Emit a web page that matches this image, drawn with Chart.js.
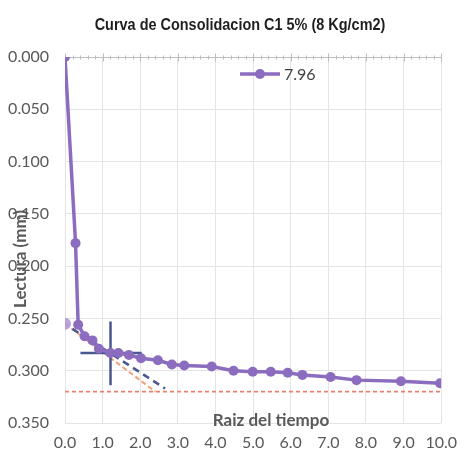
<!DOCTYPE html>
<html>
<head>
<meta charset="utf-8">
<script src="https://cdn.jsdelivr.net/npm/chart.js@4/dist/chart.umd.min.js"></script>
<style>
  html, body { margin: 0; padding: 0; background: #ffffff; }
  canvas { display: block; }
</style>
</head>
<body>
<canvas id="curva" width="467" height="455"></canvas>
<script>
// Lecturas del ensayo: raiz del tiempo vs lectura del deformimetro (mm)
const raizTiempo = [0, 0.28, 0.35, 0.52, 0.73, 0.90, 1.21, 1.42, 1.70, 2.02, 2.47, 2.84, 3.17, 3.90, 4.48, 4.99, 5.47, 5.92, 6.31, 7.06, 7.75, 8.93, 9.97];
const lectura    = [0.000, 0.178, 0.256, 0.267, 0.271, 0.279, 0.283, 0.283, 0.285, 0.288, 0.290, 0.294, 0.295, 0.296, 0.300, 0.301, 0.301, 0.302, 0.304, 0.306, 0.309, 0.310, 0.312];

// Construccion de Taylor (raiz del tiempo)
const tangenteX   = [0, 2.40];
const tangenteY   = [0.255, 0.320];
const corregidaX  = [0.20, 2.66];
const corregidaY  = [0.260, 0.317];
const lecturaFinal = 0.320;
const cruceX = 1.21;
const cruceY = 0.283;
const cruceVertical   = [0.253, 0.314];
const cruceHorizontal = [0.41, 2.04];

// Etiquetas de los ejes
const ticksX = [0, 1, 2, 3, 4, 5, 6, 7, 8, 9, 10];
const ticksY = [0, 0.05, 0.10, 0.15, 0.20, 0.25, 0.30, 0.35];

const titulo = 'Curva de Consolidacion C1 5% (8 Kg/cm2)';
const serieNombre = '7.96';
const ejeX = 'Raiz del tiempo';
const ejeY = 'Lectura (mm)';

const pares = (xs, ys) => xs.map((x, i) => ({ x, y: ys[i] }));

const morado = '#8B6CBE';
const azul = '#47598F';
const gris = '#595959';

const textos = {
  id: 'textos',
  beforeDatasetsDraw(chart) {
    const { ctx, scales: { x, y } } = chart;
    // eje horizontal superior con marcas menores
    ctx.save();
    ctx.strokeStyle = '#BDBDBD';
    ctx.lineWidth = 1;
    const y0 = Math.round(y.getPixelForValue(0)) + 0.5;
    ctx.beginPath();
    ctx.moveTo(x.getPixelForValue(0), y0);
    ctx.lineTo(x.getPixelForValue(10), y0);
    for (let i = 0; i <= 50; i++) {
      const px = Math.round(x.getPixelForValue(i / 5)) + 0.5;
      const l = i % 5 === 0 ? 4 : 2;
      ctx.moveTo(px, y0 - l);
      ctx.lineTo(px, y0 + l);
    }
    ctx.stroke();
    ctx.restore();
  },
  afterDraw(chart) {
    const { ctx } = chart;
    ctx.save();
    // titulo (letra condensada)
    ctx.save();
    ctx.fillStyle = '#1E1E1E';
    ctx.font = "bold 17px 'Liberation Sans', Arial, sans-serif";
    ctx.textAlign = 'center';
    ctx.textBaseline = 'alphabetic';
    ctx.translate(240, 30);
    ctx.scale(0.85, 1);
    ctx.fillText(titulo, 0, 0);
    ctx.restore();

    // titulo eje X
    ctx.fillStyle = gris;
    ctx.textAlign = 'center';
    ctx.font = "bold 17px Lato, sans-serif";
    ctx.fillText(ejeX, 271, 426);

    // titulo eje Y
    ctx.save();
    ctx.translate(21, 259);
    ctx.rotate(-Math.PI / 2);
    ctx.textBaseline = 'middle';
    ctx.fillText(ejeY, 0, 0);
    ctx.restore();

    // leyenda
    const ly = 74;
    ctx.strokeStyle = morado;
    ctx.lineWidth = 3.5;
    ctx.beginPath();
    ctx.moveTo(240, ly);
    ctx.lineTo(280, ly);
    ctx.stroke();
    ctx.fillStyle = morado;
    ctx.beginPath();
    ctx.arc(260, ly, 5, 0, Math.PI * 2);
    ctx.fill();
    ctx.fillStyle = '#404040';
    ctx.font = "16px Lato, sans-serif";
    ctx.textAlign = 'left';
    ctx.textBaseline = 'middle';
    ctx.fillText(serieNombre, 284, ly + 1);
    ctx.restore();
  }
};

new Chart(document.getElementById('curva'), {
  type: 'scatter',
  data: {
    datasets: [
      {
        label: serieNombre,
        data: pares(raizTiempo, lectura),
        showLine: true,
        borderColor: morado,
        backgroundColor: morado,
        borderWidth: 3.5,
        pointRadius: 5,
        pointBorderWidth: 0,
        tension: 0
      },
      {
        label: 'corregida',
        data: pares(corregidaX, corregidaY),
        showLine: true,
        borderColor: azul,
        borderWidth: 2.5,
        borderDash: [7, 5],
        pointRadius: 0
      },
      {
        label: 'cruce vertical',
        data: pares([cruceX, cruceX], cruceVertical),
        showLine: true,
        borderColor: azul,
        borderWidth: 2.5,
        pointRadius: 0
      },
      {
        label: 'cruce horizontal',
        data: pares(cruceHorizontal, [cruceY, cruceY]),
        showLine: true,
        borderColor: azul,
        borderWidth: 2.5,
        pointRadius: 0
      },
      {
        label: 'tangente',
        data: pares(tangenteX, tangenteY),
        showLine: true,
        borderColor: '#F1A07A',
        borderWidth: 2,
        borderDash: [5, 3],
        pointRadius: [6, 0],
        pointBackgroundColor: 'rgba(178,152,214,0.9)',
        pointBorderWidth: 0
      },
      {
        label: 'final',
        data: pares([0, 10], [lecturaFinal, lecturaFinal]),
        showLine: true,
        borderColor: '#E8826F',
        borderWidth: 1.8,
        borderDash: [4, 3],
        pointRadius: 0
      }
    ]
  },
  options: {
    responsive: false,
    animation: false,
    devicePixelRatio: 1,
    layout: { padding: { top: 57, right: 15, left: 0, bottom: 0 } },
    plugins: {
      legend: { display: false },
      title: { display: false },
      tooltip: { enabled: false }
    },
    scales: {
      x: {
        type: 'linear',
        min: ticksX[0],
        max: ticksX[ticksX.length - 1],
        afterBuildTicks: s => { s.ticks = ticksX.map(v => ({ value: v })); },
        ticks: {
          callback: v => Number(v).toFixed(1),
          color: gris,
          font: { family: 'Lato', size: 16 },
          padding: 10,
          maxRotation: 0
        },
        grid: { color: '#E4E4E4', drawTicks: false },
        border: { display: false },
        afterFit: s => { s.height = 32; }
      },
      y: {
        reverse: true,
        min: ticksY[0],
        max: ticksY[ticksY.length - 1],
        afterBuildTicks: s => { s.ticks = ticksY.map(v => ({ value: v })); },
        ticks: {
          callback: v => Number(v).toFixed(3),
          color: gris,
          font: { family: 'Lato', size: 16 },
          padding: 16
        },
        grid: { color: '#E4E4E4', drawTicks: false },
        border: { display: false },
        afterFit: s => { s.width = 65; }
      }
    }
  },
  plugins: [textos]
});
</script>
</body>
</html>
